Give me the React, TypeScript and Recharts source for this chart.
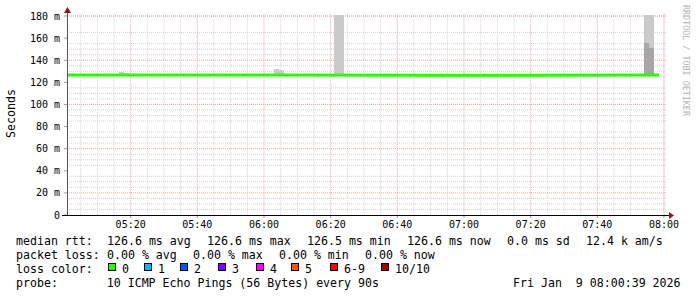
import React from "react";
import { Bar, CartesianGrid, ComposedChart, Line, XAxis, YAxis } from "recharts";

// minutes after 05:00 (centre of each 90 s step that shows smoke)
const smokeTimes = [17.25, 18.75, 63.75, 65.25, 81.75, 83.25, 174.75, 176.25];
const smokeLow = [126.6, 126.6, 126.6, 126.6, 126.6, 126.6, 126.6, 126.6];
const smokeDark = [126.6, 126.6, 126.6, 126.6, 126.6, 126.6, 155.8, 151.3];
const smokeHigh = [129.7, 128.5, 131.8, 131.5, 181, 181, 181, 181];

const medianTimes = [0.9, 60, 120, 178.5];
const medianRtt = [126.6, 126.6, 126.5, 126.6];

const xTicks = [20, 40, 60, 80, 100, 120, 140, 160, 180];
const xTickLabels = ["05:20", "05:40", "06:00", "06:20", "06:40", "07:00", "07:20", "07:40", "08:00"];
const yTicks = [0, 20, 40, 60, 80, 100, 120, 140, 160, 180];
const yTickLabels = ["0", "20 m", "40 m", "60 m", "80 m", "100 m", "120 m", "140 m", "160 m", "180 m"];

const lossLabels = ["0", "1", "2", "3", "4", "5", "6-9", "10/10"];
const lossColors = ["#26ff00", "#00b8ff", "#0059ff", "#7e00ff", "#ff00ff", "#ff5500", "#ff0000", "#a00000"];
const lossX = [108, 144, 180, 218, 256, 291, 330, 381];

const rttItems = ["median rtt:", "126.6 ms avg", "126.6 ms max", "126.5 ms min", "126.6 ms now", "0.0 ms sd", "12.4 k am/s"];
const rttCols = [0, 13, 27, 41, 55, 69, 80];
const lossItems = ["packet loss:", "0.00 % avg", "0.00 % max", "0.00 % min", "0.00 % now"];
const lossCols = [0, 13, 25, 37, 49];
const probeLine = "probe:       10 ICMP Echo Pings (56 Bytes) every 90s";
const stampText = "Fri Jan  9 08:00:39 2026";

const smokeData = smokeTimes.map((t, i) => ({
  t,
  base: smokeLow[i],
  dark: smokeDark[i] - smokeLow[i],
  light: smokeHigh[i] - Math.max(smokeDark[i], smokeLow[i]),
}));
const medianData = medianTimes.map((t, i) => ({ t, rtt: medianRtt[i] }));

const minorY: number[] = [];
for (let v = 5; v <= 180; v += 5) minorY.push(v);
const minorX: number[] = [];
for (let v = 5; v <= 180; v += 5) minorX.push(v);

const mono = "'DejaVu Sans Mono', monospace";
const CHAR = 7;

const textStyle: React.CSSProperties = {
  position: "absolute",
  fontSize: 11.6,
  lineHeight: "14px",
  whiteSpace: "pre",
  color: "#000",
};

// rrdtool puts a couple of extra pixels between legend items
const itemX = (col: number, k: number) => 16 + col * CHAR + Math.max(0, k - 1) * 2;

const App = () => {
  return (
    <div
      style={{
        position: "absolute",
        left: 0,
        top: 0,
        width: 697,
        height: 297,
        background: "#fff",
        fontFamily: mono,
        overflow: "hidden",
      }}
    >
      <ComposedChart
        width={697}
        height={240}
        data={smokeData}
        margin={{ top: 13.8, right: 30, left: 0, bottom: 5 }}
        barGap={0}
      >
        <CartesianGrid
          horizontalValues={minorY}
          verticalValues={minorX}
          stroke="#d2d2d2"
          strokeDasharray="1 1"
          fill="none"
        />
        <CartesianGrid
          horizontalValues={yTicks}
          verticalValues={xTicks}
          stroke="#eba5a5"
          strokeDasharray="1 1"
          fill="none"
        />
        <XAxis
          dataKey="t"
          type="number"
          domain={[0.9, 180.9]}
          allowDataOverflow
          ticks={xTicks}
          tickFormatter={(v) => xTickLabels[xTicks.indexOf(v)]}
          axisLine={false}
          tickLine={{ stroke: "#999" }}
          tickSize={3}
          tickMargin={3}
          height={20}
          tick={{ fontSize: 10, fill: "#000", fontFamily: mono }}
        />
        <YAxis
          type="number"
          domain={[0, 182]}
          allowDataOverflow
          ticks={yTicks}
          tickFormatter={(v) => yTickLabels[yTicks.indexOf(v)]}
          axisLine={false}
          tickLine={{ stroke: "#999" }}
          tickSize={3}
          tickMargin={4}
          width={67}
          tick={{ fontSize: 10, fill: "#000", fontFamily: mono }}
        />
        <Bar dataKey="base" stackId="s" fill="none" barSize={5} isAnimationActive={false} />
        <Bar
          dataKey="dark"
          stackId="s"
          fill="#a6a6a6"
          barSize={5}
          shapeRendering="crispEdges"
          isAnimationActive={false}
        />
        <Bar
          dataKey="light"
          stackId="s"
          fill="#cacaca"
          barSize={5}
          shapeRendering="crispEdges"
          isAnimationActive={false}
        />
        <Line
          data={medianData}
          dataKey="rtt"
          type="linear"
          stroke="#26ff00"
          strokeWidth={3}
          dot={false}
          activeDot={false}
          isAnimationActive={false}
        />
      </ComposedChart>

      <svg
        width={697}
        height={297}
        style={{ position: "absolute", left: 0, top: 0, pointerEvents: "none" }}
      >
        <line x1={67.5} y1={215} x2={67.5} y2={12} stroke="#555" strokeWidth={1} />
        <polygon points="64,13 71,13 67.5,7" fill="#8b1a1a" />
        <line x1={62} y1={215.5} x2={669} y2={215.5} stroke="#000" strokeWidth={1} />
        <polygon points="669,212 669,219 674,215.5" fill="#8b1a1a" />
        <text
          transform="translate(14.5,113.5) rotate(-90)"
          textAnchor="middle"
          fontFamily={mono}
          fontSize={11.6}
          fill="#000"
        >
          Seconds
        </text>
        <text
          transform="translate(683,5) rotate(90)"
          fontFamily={mono}
          fontSize={8.4}
          fill="#b4b4b4"
        >
          RRDTOOL / TOBI OETIKER
        </text>
      </svg>

      {rttItems.map((s, k) => (
        <div key={"r" + k} style={{ ...textStyle, left: itemX(rttCols[k], k), top: 234 }}>
          {s}
        </div>
      ))}
      {lossItems.map((s, k) => (
        <div key={"l" + k} style={{ ...textStyle, left: itemX(lossCols[k], k), top: 248 }}>
          {s}
        </div>
      ))}
      <div style={{ ...textStyle, left: 16, top: 262 }}>loss color:</div>
      {lossLabels.map((label, i) => (
        <React.Fragment key={label}>
          <div
            style={{
              position: "absolute",
              left: lossX[i],
              top: 263,
              width: 6,
              height: 6,
              border: "1px solid #000",
              background: lossColors[i],
            }}
          />
          <div style={{ ...textStyle, left: lossX[i] + 14, top: 262 }}>{label}</div>
        </React.Fragment>
      ))}
      <div style={{ ...textStyle, left: 16, top: 276 }}>{probeLine}</div>
      <div style={{ ...textStyle, left: 513, top: 276 }}>{stampText}</div>
    </div>
  );
};

export default App;
